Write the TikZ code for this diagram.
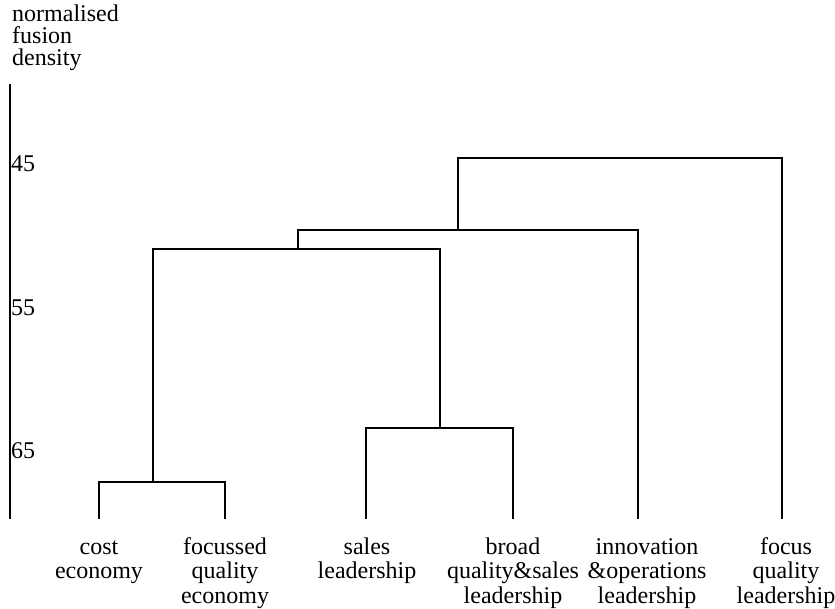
\documentclass[tikz,border=0pt]{standalone}
\usepackage{fontspec}
\setmainfont{Liberation Serif}
\newcommand{\topstrut}{\rule{0pt}{17pt}}
\begin{document}
\begin{tikzpicture}[x=1pt,y=-1pt,
  link/.style={line width=1.8pt,line cap=rect},
  leaflabel/.style={anchor=north,align=center,inner sep=0pt,font=\fontsize{24}{24.5}\selectfont},
  ticklabel/.style={anchor=west,inner sep=0pt,font=\fontsize{24}{24}\selectfont},
  axtitle/.style={anchor=north west,align=left,inner sep=0pt,font=\fontsize{24}{22}\selectfont}]
\useasboundingbox (0,0) rectangle (835,608);
% axis
\coordinate (axtop) at (10,85);
\coordinate (axbot) at (10,518);
\draw[link] (axtop) -- (axbot);
\node[axtitle] (title) at (12,4) {\topstrut normalised\\fusion\\density};
\node[ticklabel] (t45) at (11,164) {45};
\node[ticklabel] (t55) at (11,308) {55};
\node[ticklabel] (t65) at (11,451) {65};
% leaves
\coordinate (l1) at (99,518);
\coordinate (l2) at (225,518);
\coordinate (l3) at (366,518);
\coordinate (l4) at (513,518);
\coordinate (l5) at (638,518);
\coordinate (l6) at (782,518);
% merge points
\coordinate (m1) at (153,482);
\coordinate (m2) at (440,428);
\coordinate (m3) at (298,249);
\coordinate (m4) at (458,230);
\coordinate (m5) at (620,158);
% connectors
\draw[link] (l1) |- (m1) -| (l2);
\draw[link] (l3) |- (m2) -| (l4);
\draw[link] (m1) |- (m3) -| (m2);
\draw[link] (m3) |- (m4) -| (l5);
\draw[link] (m4) |- (m5) -| (l6);
% labels
\node[leaflabel] (n1) at (99,537) {\topstrut cost\\economy};
\node[leaflabel] (n2) at (225,537) {\topstrut focussed\\quality\\economy};
\node[leaflabel] (n3) at (367,537) {\topstrut sales\\leadership};
\node[leaflabel] (n4) at (513,537) {\topstrut broad\\quality\&sales\\leadership};
\node[leaflabel] (n5) at (647,537) {\topstrut innovation\\\&operations\\leadership};
\node[leaflabel] (n6) at (786,537) {\topstrut focus\\quality\\leadership};
\end{tikzpicture}
\end{document}
